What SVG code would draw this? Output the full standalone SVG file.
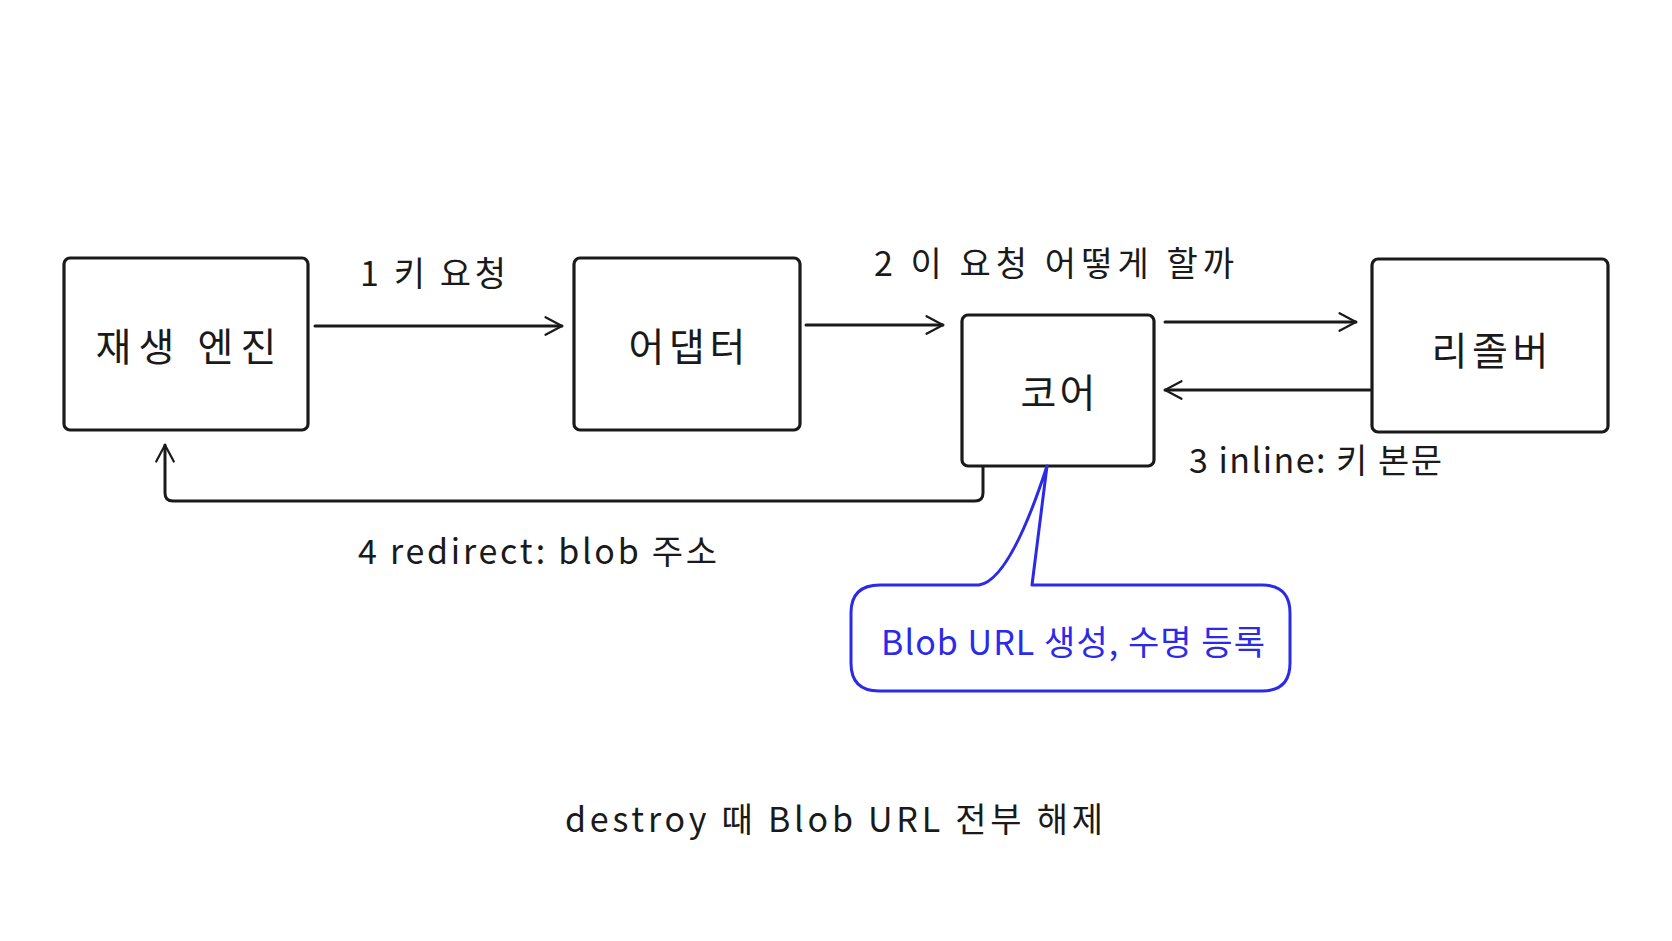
<svg xmlns="http://www.w3.org/2000/svg" width="1672" height="941" viewBox="0 0 1672 941">
<defs>
<style>
.box{fill:#fff;stroke:#1a1a1a;stroke-width:3.2}
.t{font-family:"Noto Sans CJK KR","Noto Sans",sans-serif;fill:#1a1a1a}
.n{font-size:39px;text-anchor:middle;dominant-baseline:central}
.l{font-size:34px;dominant-baseline:central}
.c{fill:none;stroke:#1a1a1a;stroke-width:3;stroke-linecap:round;stroke-linejoin:round}
</style>
<marker id="a" viewBox="0 0 20 20" refX="18" refY="10" markerWidth="22" markerHeight="22" markerUnits="userSpaceOnUse" orient="auto"><path d="M3 2 L18 10 L3 18" fill="none" stroke="#1a1a1a" stroke-width="2" stroke-linecap="round" stroke-linejoin="round"/></marker>
</defs>
<rect width="1672" height="941" fill="#fff"/>
<g id="connectors">
<path class="c" d="M315 326 H562" marker-end="url(#a)"/>
<path class="c" d="M806 325 H943" marker-end="url(#a)"/>
<path class="c" d="M1165 322 H1356" marker-end="url(#a)"/>
<path class="c" d="M1370 390 H1165" marker-end="url(#a)"/>
<path class="c" d="M983 466 V493 Q983 501 975 501 H173 Q165 501 165 493 V445" marker-end="url(#a)"/>
<text class="t l" x="360" y="271" textLength="146" lengthAdjust="spacing">1 키 요청</text>
<text class="t l" x="874" y="261" textLength="360" lengthAdjust="spacing">2 이 요청 어떻게 할까</text>
<text class="t l" x="1189" y="458" textLength="253" lengthAdjust="spacing">3 inline: 키 본문</text>
<text class="t l" x="358" y="549" textLength="359" lengthAdjust="spacing">4 redirect: blob 주소</text>
</g>
<g id="n1"><rect class="box" x="64" y="258" width="244" height="172" rx="6"/><text class="t n" x="186" y="344" textLength="181" lengthAdjust="spacing">재생 엔진</text></g>
<g id="n2"><rect class="box" x="574" y="258" width="226" height="172" rx="6"/><text class="t n" x="687" y="344" textLength="117" lengthAdjust="spacing">어댑터</text></g>
<g id="n3"><rect class="box" x="962" y="315" width="192" height="151" rx="6"/><text class="t n" x="1058" y="390" textLength="75" lengthAdjust="spacing">코어</text></g>
<g id="n4"><rect class="box" x="1372" y="259" width="236" height="173" rx="6"/><text class="t n" x="1490" y="348" textLength="117" lengthAdjust="spacing">리졸버</text></g>
<g id="note"><path d="M880 585 H979 Q1010 580 1047 466 L1032 585 H1262 Q1290 585 1290 613 V663 Q1290 691 1262 691 H879 Q851 691 851 663 V613 Q851 585 880 585 Z" fill="#fff" stroke="#2a2ae8" stroke-width="3" stroke-linejoin="round"/><text class="t l" x="881" y="640" style="fill:#2a2ae8" textLength="384" lengthAdjust="spacing">Blob URL 생성, 수명 등록</text></g>
<text class="t l" x="565" y="817" textLength="538" lengthAdjust="spacing">destroy 때 Blob URL 전부 해제</text>
</svg>
